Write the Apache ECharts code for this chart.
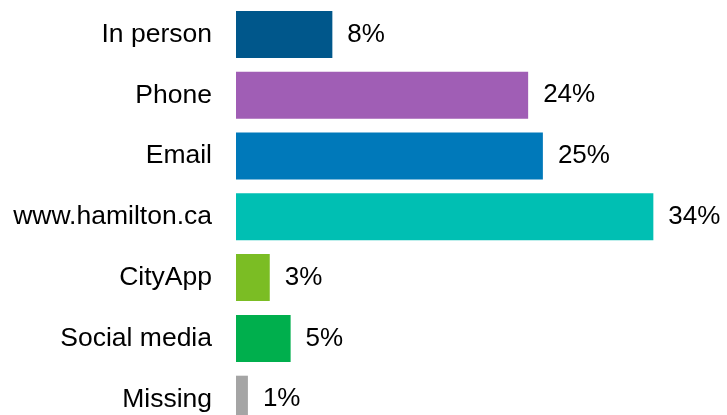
<!DOCTYPE html>
<html><head><meta charset="utf-8">
<script src="https://cdn.jsdelivr.net/npm/echarts@6/dist/echarts.min.js"></script>
<style>html,body{margin:0;padding:0;background:#fff;overflow:hidden}#c{width:727px;height:430px}</style>
</head><body><div id="c"></div>
<script>
const categories = ['In person', 'Phone', 'Email', 'www.hamilton.ca', 'CityApp', 'Social media', 'Missing'];
const values = [7.85, 23.8, 25.0, 34.0, 2.75, 4.45, 0.97];
const labels = ['8%', '24%', '25%', '34%', '3%', '5%', '1%'];
const colors = ['#00578B', '#A05EB5', '#0079BA', '#00BFB3', '#7BBD24', '#00AF4D', '#A5A5A5'];

const chart = echarts.init(document.getElementById('c'), null, {renderer: 'canvas'});
chart.setOption({
  animation: false,
  backgroundColor: '#ffffff',
  grid: {left: 236, top: 4, width: 497, height: 425.6, containLabel: false},
  xAxis: {type: 'value', min: 0, max: 40, show: false},
  yAxis: {
    type: 'category', data: categories, inverse: true,
    axisLine: {show: false}, axisTick: {show: false}, splitLine: {show: false},
    axisLabel: {margin: 24, fontSize: 26.5, color: '#000', fontFamily: 'Liberation Sans, Arial, sans-serif'}
  },
  series: [{
    type: 'bar',
    data: values.map((v, i) => ({value: v, itemStyle: {color: colors[i]}})),
    barCategoryGap: '22.7%',
    label: {
      show: true, position: 'right', distance: 15,
      fontSize: 26, color: '#000', fontFamily: 'Liberation Sans, Arial, sans-serif',
      formatter: p => labels[p.dataIndex]
    }
  }]
});
</script></body></html>
